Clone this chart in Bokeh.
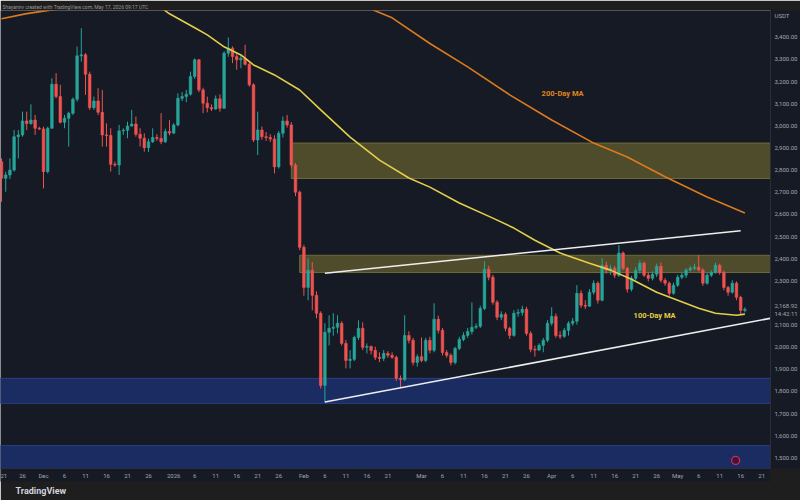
import pandas as pd
from bokeh.plotting import figure
from bokeh.models import FixedTicker, NumeralTickFormatter, Range1d, Label, ColumnDataSource, Title
from bokeh.embed import file_html
from bokeh.resources import INLINE

# ---------------- data ----------------
dates = pd.date_range("2025-11-21", "2026-05-17", freq="D")

opens = [
    # Nov 21-30
    2836, 2761, 2776, 2798, 2949, 2957, 3020, 3008, 3024, 2987,
    # Dec
    2984, 2791, 2987, 3186, 3130, 3014, 3032, 3055, 3118, 3314,
    3319, 3231, 3080, 3110, 3059, 2957, 2954, 2824, 2821, 2975,
    2978, 2997, 3006, 2960, 2942, 2899, 2926, 2945, 2941, 2926, 2972,
    # Jan
    2965, 3002, 3122, 3130, 3141, 3221, 3296, 3160, 3100, 3080,
    3074, 3120, 3077, 3326, 3349, 3311, 3296, 3303, 3276, 3183,
    2934, 2979, 2949, 2945, 2938, 2813, 2964, 3020, 3002, 2821, 2698,
    # Feb
    2449, 2268, 2345, 2232, 2151, 1825, 2065, 2083, 2088, 2106,
    2015, 1938, 1943, 2042, 2083, 1997, 2001, 1983, 1952, 1947,
    1970, 1961, 1952, 1857, 1852, 2051, 2029, 1929,
    # Mar
    1955, 1938, 2029, 1984, 2124, 2074, 1974, 1961, 1929, 1992,
    2033, 2051, 2069, 2088, 2092, 2173, 2350, 2314, 2201, 2133,
    2146, 2083, 2051, 2151, 2155, 2169, 2060, 1988, 1985, 2006, 2029,
    # Apr
    2106, 2137, 2051, 2047, 2074, 2106, 2115, 2241, 2187, 2183,
    2246, 2287, 2210, 2368, 2346, 2355, 2323, 2423, 2354, 2260,
    2309, 2345, 2377, 2323, 2309, 2327, 2363, 2300, 2287, 2241,
    # May 1-17
    2278, 2314, 2323, 2346, 2354, 2359, 2346, 2287, 2323, 2336,
    2368, 2336, 2268, 2246, 2287, 2223, 2164,
]
highs = [
    2851, 2791, 2851, 2979, 2979, 3062, 3062, 3095, 3047, 2994,
    2994, 2994, 3213, 3236, 3183, 3047, 3062, 3126, 3356, 3439,
    3326, 3243, 3130, 3168, 3160, 3009, 2987, 2836, 3002, 2987,
    3017, 3070, 3040, 2987, 2964, 2940, 2987, 2960, 3055, 2985, 3024,
    3010, 3145, 3150, 3160, 3243, 3303, 3300, 3170, 3130, 3095,
    3135, 3140, 3335, 3397, 3357, 3325, 3319, 3364, 3285, 3190,
    3062, 2995, 2970, 2960, 2955, 2975, 3040, 3047, 3015, 2830, 2705,
    2460, 2400, 2382, 2250, 2160, 2106, 2142, 2151, 2142, 2115,
    2030, 1984, 2050, 2119, 2110, 2015, 2005, 2000, 1975, 1985,
    1980, 1975, 1960, 1870, 2142, 2070, 2040, 1965,
    2042, 2040, 2045, 2196, 2140, 2085, 1985, 1970, 2000, 2045,
    2065, 2085, 2200, 2105, 2185, 2386, 2365, 2325, 2210, 2160,
    2155, 2090, 2165, 2170, 2185, 2180, 2070, 2005, 2015, 2040, 2120,
    2178, 2150, 2070, 2085, 2115, 2130, 2278, 2255, 2210, 2260,
    2300, 2295, 2400, 2385, 2370, 2365, 2459, 2430, 2360, 2320,
    2360, 2390, 2385, 2335, 2340, 2375, 2380, 2310, 2295, 2290,
    2325, 2335, 2355, 2365, 2375, 2413, 2355, 2335, 2345, 2380,
    2375, 2345, 2275, 2300, 2295, 2230, 2178,
]
lows = [
    2655, 2700, 2758, 2791, 2851, 2949, 2979, 3002, 2957, 2979,
    2715, 2783, 2985, 3122, 3009, 2987, 2904, 3047, 3107, 3288,
    3138, 3070, 3070, 3047, 2904, 2904, 2791, 2813, 2776, 2957,
    2942, 2994, 2949, 2904, 2881, 2880, 2920, 2930, 2915, 2920, 2955,
    2960, 2995, 3110, 3105, 3135, 3210, 3150, 3055, 3059, 3065,
    3070, 3062, 3075, 3310, 3281, 3251, 3258, 3270, 3175, 2925,
    2866, 2935, 2930, 2925, 2783, 2805, 2945, 2990, 2810, 2680, 2436,
    2230, 2210, 2164, 2128, 1811, 1748, 2006, 2050, 2060, 2005,
    1902, 1902, 1935, 2030, 1985, 1970, 1965, 1940, 1930, 1935,
    1950, 1945, 1845, 1816, 1845, 2015, 1915, 1910,
    1930, 1930, 1970, 1975, 2060, 1960, 1950, 1915, 1920, 1985,
    2025, 2040, 2055, 2080, 2085, 2165, 2300, 2190, 2120, 2120,
    2070, 2035, 2045, 2135, 2140, 2050, 1975, 1955, 1980, 1975, 2020,
    2095, 2040, 2035, 2040, 2050, 2095, 2100, 2175, 2170, 2180,
    2235, 2195, 2205, 2330, 2325, 2310, 2315, 2345, 2245, 2250,
    2300, 2330, 2315, 2295, 2300, 2315, 2290, 2275, 2230, 2235,
    2270, 2305, 2310, 2340, 2345, 2340, 2275, 2280, 2315, 2330,
    2325, 2255, 2230, 2240, 2210, 2146, 2155,
]
closes = [
    2761, 2776, 2798, 2949, 2957, 3020, 3008, 3024, 2987, 2984,
    2791, 2987, 3186, 3130, 3014, 3032, 3055, 3118, 3314, 3319,
    3231, 3080, 3110, 3059, 2957, 2954, 2824, 2821, 2975, 2978,
    2997, 3006, 2960, 2942, 2899, 2926, 2945, 2941, 2926, 2972, 2965,
    3002, 3122, 3130, 3141, 3221, 3296, 3160, 3100, 3080, 3074,
    3120, 3077, 3326, 3349, 3311, 3296, 3303, 3276, 3183, 2934,
    2979, 2949, 2945, 2938, 2813, 2964, 3020, 3002, 2821, 2698, 2449,
    2268, 2345, 2232, 2151, 1825, 2065, 2083, 2088, 2106, 2015,
    1938, 1943, 2042, 2083, 1997, 2001, 1983, 1952, 1947, 1970,
    1961, 1952, 1857, 1852, 2051, 2029, 1929, 1955,
    1938, 2029, 1984, 2124, 2074, 1974, 1961, 1929, 1992, 2033,
    2051, 2069, 2088, 2092, 2173, 2350, 2314, 2201, 2133, 2146,
    2083, 2051, 2151, 2155, 2169, 2060, 1988, 1985, 2006, 2029, 2106,
    2137, 2051, 2047, 2074, 2106, 2115, 2241, 2187, 2183, 2246,
    2287, 2210, 2368, 2346, 2355, 2323, 2423, 2354, 2260, 2309,
    2345, 2377, 2323, 2309, 2327, 2363, 2300, 2287, 2241, 2278,
    2314, 2323, 2346, 2354, 2359, 2346, 2287, 2323, 2336, 2368,
    2336, 2268, 2246, 2287, 2223, 2164, 2168.92,
]

ma100_dates = ["2025-12-27", "2025-12-31", "2026-01-06", "2026-01-09", "2026-01-13",
               "2026-01-17", "2026-01-20", "2026-01-25", "2026-01-31", "2026-02-05",
               "2026-02-12", "2026-02-19", "2026-02-26", "2026-03-03", "2026-03-10",
               "2026-03-18", "2026-03-23", "2026-03-28", "2026-04-03", "2026-04-10",
               "2026-04-15", "2026-04-20", "2026-04-26", "2026-05-01", "2026-05-06",
               "2026-05-10", "2026-05-15", "2026-05-17"]
ma100_vals = [3560, 3504, 3441, 3409, 3355, 3318, 3273, 3228, 3160, 3070,
              2947, 2843, 2762, 2721, 2649, 2581, 2536, 2481, 2423, 2377,
              2346, 2305, 2246, 2210, 2174, 2151, 2142, 2147]

ma200_dates = ["2025-11-21", "2025-11-27", "2025-12-03", "2025-12-10", "2026-01-15",
               "2026-02-10", "2026-02-17", "2026-02-22", "2026-03-03", "2026-03-12",
               "2026-03-22", "2026-04-01", "2026-04-11", "2026-04-19", "2026-04-28",
               "2026-05-08", "2026-05-17"]
ma200_vals = [3482, 3505, 3522, 3540, 3580, 3550, 3525, 3486, 3370, 3264,
              3138, 3024, 2920, 2857, 2768, 2676, 2604]

zone_names = ["supply_upper", "supply_lower", "demand_upper", "demand_lower"]
zone_starts = ["2026-01-29", "2026-01-31", "2025-11-01", "2025-11-01"]
zone_tops = [2920, 2413, 1857, 1553]
zone_bottoms = [2760, 2335, 1744, 1300]
zone_fill = ["#4f4c2b", "#4f4c2b", "#1b2c63", "#1b2c63"]
zone_edge = ["#6e6a3a", "#6e6a3a", "#2b3f85", "#2b3f85"]

trend_start_dates = ["2026-02-06", "2026-02-06"]
trend_end_dates = ["2026-05-16", "2026-05-23"]
trend_start_vals = [2332, 1750]
trend_end_vals = [2524, 2128]

x_tick_days = [-10, -5, 0, 5, 10, 15, 20, 25, 31, 36, 41, 46, 51, 56, 62, 67, 72, 77, 82,
               90, 95, 100, 105, 110, 115, 121, 126, 131, 136, 141, 146, 151, 156, 161, 166, 171]
x_tick_labels = ["21", "26", "Dec", "6", "11", "16", "21", "26", "2026", "6", "11", "16", "21",
                 "26", "Feb", "6", "11", "16", "21", "Mar", "6", "11", "16", "21", "26", "Apr",
                 "6", "11", "16", "21", "26", "May", "6", "11", "16", "21"]
price_ticks = [1500, 1600, 1700, 1800, 1900, 2000, 2100, 2300, 2400, 2500,
               2600, 2700, 2800, 2900, 3000, 3100, 3200, 3300, 3400]

last_price = 2168.92
last_price_text = "2,168.92"
countdown = "14:42:11"
currency = "USDT"
currency_level = 3495

# ---------------- helpers ----------------
DAY0 = pd.Timestamp("2025-12-01")


def dnum(s):
    return (pd.Timestamp(s) - DAY0).days


BG = "#161a25"
FRAME_BG = "#1e1e1e"
TXT = "#a3a6af"
UP = "#26a69a"
DN = "#ef5350"
FONT = "Roboto"

X0, X1 = -10.24, 173.1
Y0, Y1 = 1449.7, 3519.0

header = Title(text="Shayannv created with TradingView.com, May 17, 2026 09:17 UTC",
               align="left", text_font=FONT, text_font_size="5px", text_font_style="normal",
               text_color="#9a9a9a", standoff=1, offset=2)
p = figure(width=800, height=500, output_backend="svg", toolbar_location=None,
           x_range=Range1d(X0, X1), y_range=Range1d(Y0, Y1),
           y_axis_location="right", x_axis_location="below", title=header,
           min_border_left=0, min_border_right=30, min_border_top=10, min_border_bottom=32)
p.background_fill_color = BG
p.border_fill_color = FRAME_BG
p.outline_line_color = None
p.grid.visible = False

# zones
zsrc = ColumnDataSource(dict(
    left=[dnum(s) for s in zone_starts], right=[200] * len(zone_starts),
    top=zone_tops, bottom=zone_bottoms, fill=zone_fill, edge=zone_edge))
p.quad(left="left", right="right", top="top", bottom="bottom", source=zsrc,
       fill_color="fill", line_color="edge", line_width=1)

# candles
xs = [(d - DAY0).days for d in dates]
colors = [UP if c >= o else DN for o, c in zip(opens, closes)]
csrc = ColumnDataSource(dict(
    x=xs, o=opens, h=highs, l=lows, c=closes, color=colors,
    top=[max(o, c) for o, c in zip(opens, closes)],
    bottom=[min(o, c) for o, c in zip(opens, closes)]))
p.segment(x0="x", y0="l", x1="x", y1="h", color="color", line_width=1, source=csrc)
p.vbar(x="x", width=0.62, top="top", bottom="bottom", fill_color="color",
       line_color="color", line_width=0.6, source=csrc)

# moving averages
p.line([dnum(s) for s in ma100_dates], ma100_vals, line_color="#e3cf4a", line_width=1.6)
p.line([dnum(s) for s in ma200_dates], ma200_vals, line_color="#dc7a1c", line_width=1.6)

# trend lines
p.segment(x0=[dnum(s) for s in trend_start_dates], y0=trend_start_vals,
          x1=[dnum(s) for s in trend_end_dates], y1=trend_end_vals,
          line_color="#eeeeee", line_width=1.6)

# event marker
p.scatter([164.8], [1486], size=8, marker="circle", fill_color="#3a1838",
          line_color="#e0245e", line_width=1.2)

# annotations
p.add_layout(Label(x=123.6, y=3146, text="200-Day MA", text_color="#e0861c",
                   text_font=FONT, text_font_size="7.5px", text_font_style="bold",
                   text_align="center", text_baseline="middle"))
p.add_layout(Label(x=145.5, y=2142, text="100-Day MA", text_color="#e6cf45",
                   text_font=FONT, text_font_size="7.5px", text_font_style="bold",
                   text_align="center", text_baseline="middle"))

# axes
xa = p.xaxis[0]
xa.ticker = FixedTicker(ticks=x_tick_days)
xa.major_label_overrides = {d: t for d, t in zip(x_tick_days, x_tick_labels)}
ya = p.yaxis[0]
ya.ticker = FixedTicker(ticks=price_ticks + [last_price, currency_level])
ya.formatter = NumeralTickFormatter(format="0,0.00")
ya.major_label_overrides = {last_price: last_price_text + "\n" + countdown,
                            currency_level: currency}
for ax in (xa, ya):
    ax.major_label_text_color = TXT
    ax.major_label_text_font = FONT
    ax.major_label_text_font_size = "6px"
    ax.major_tick_line_color = None
    ax.minor_tick_line_color = None
    ax.major_tick_out = 0
    ax.major_tick_in = 0
    ax.minor_tick_out = 0
    ax.axis_line_color = "#2a2e39"
    ax.background_fill_color = BG
xa.major_label_standoff = 3
ya.major_label_standoff = 4

# footer
footer = Title(text="TradingView", align="left", text_font=FONT, text_font_size="9px",
               text_font_style="bold", text_color="#d1d4dc", offset=15, standoff=4)
p.add_layout(footer, "below")

open("out.html", "w").write(file_html(p, INLINE))
